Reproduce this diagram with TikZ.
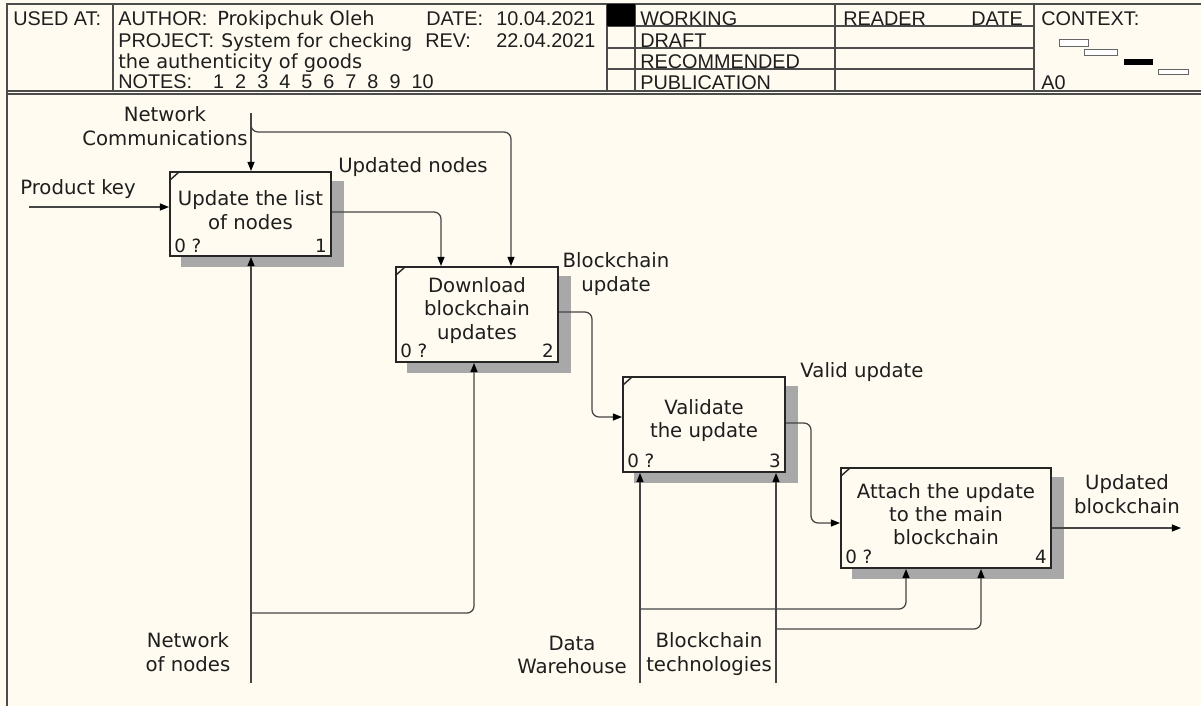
\documentclass[tikz,border=0pt]{standalone}
\usepackage{fontspec}
\setmainfont{DejaVu Sans}
\newfontfamily\arialf{Liberation Sans}
\usetikzlibrary{arrows.meta,backgrounds}
\definecolor{bgc}{HTML}{FFFBF0}
\definecolor{ink}{HTML}{1E1E1E}
\definecolor{wire}{HTML}{454545}
\definecolor{shadowc}{HTML}{A8A8A8}
\begin{document}
\begin{tikzpicture}[x=0.025cm,y=-0.025cm,
  hdr/.style={font=\arialf\fontsize{14.1}{16}\selectfont, text=ink, inner sep=0, anchor=base west},
  hval/.style={font=\fontsize{13.8}{16}\selectfont, text=ink, inner sep=0, anchor=base west},
  grid/.style={draw=black!70, line width=0.9pt},
  func/.style={draw=black!85, line width=1.4pt, fill=bgc, rectangle, inner sep=0},
  ftext/.style={font=\fontsize{14}{16.6}\selectfont, align=center, text=ink, inner sep=0},
  corner/.style={font=\fontsize{13}{15}\selectfont, text=ink, inner sep=0},
  lbl/.style={font=\fontsize{14}{16.6}\selectfont, align=center, text=ink, inner sep=0},
  wirest/.style={draw=wire, line width=0.9pt, rounded corners=5},
  arr/.style={wirest, -{Triangle[length=6.5pt,width=5pt,color=black]}},
  mini/.style={draw=black!60, line width=0.6pt, fill=white},
]
\useasboundingbox (0,0) rectangle (1201,706);

% ---------- header frame ----------
\draw[grid] (7,706) -- (7,4) -- (1201,4);
\draw[grid] (7,91) -- (1201,91);
\draw[grid] (7,94) -- (1201,94);
\draw[grid] (113,4) -- (113,91);
\draw[grid] (607,4) -- (607,91);
\draw[grid] (635,4) -- (635,91);
\draw[grid] (835,4) -- (835,91);
\draw[grid] (1034,4) -- (1034,91);
\foreach \yy in {26,48,69} \draw[grid] (607,\yy) -- (1034,\yy);
\fill[black] (607,4) rectangle (635,26);

\node[hdr] (usedat) at (13,25) {USED AT:};
\node[hdr] (author) at (118,25) {AUTHOR:};
\node[hval] (authorv) at (217,25) {Prokipchuk Oleh};
\node[hdr] (date) at (426,25) {DATE:};
\node[hdr] (datev) at (496,25) {10.04.2021};
\node[hdr] (project) at (118,47) {PROJECT:};
\node[hval, font=\fontsize{13.3}{15}\selectfont] (projectv) at (221,47) {System for checking};
\node[hdr] (rev) at (425,47) {REV:};
\node[hdr] (revv) at (496,47) {22.04.2021};
\node[hval] (projectv2) at (118,68) {the authenticity of goods};
\node[hdr] (notes) at (118,88) {NOTES:\hspace{15pt}1\ \ 2\ \ 3\ \ 4\ \ 5\ \ 6\ \ 7\ \ 8\ \ 9\ \ 10};
\node[hdr] (working) at (640,25) {WORKING};
\node[hdr] (draft) at (640,47) {DRAFT};
\node[hdr] (recommended) at (640,68) {RECOMMENDED};
\node[hdr] (publication) at (640,89) {PUBLICATION};
\node[hdr] (reader) at (843,25) {READER};
\node[hdr, anchor=base east] (rdate) at (1023,25) {DATE};
\node[hdr] (context) at (1041,25) {CONTEXT:};
\node[hdr] (azero) at (1041,89) {A0};
\draw[mini] (1059,39) rectangle (1088,46);
\draw[mini] (1084,49) rectangle (1117,55);
\fill[black] (1124,59) rectangle (1153,65);
\draw[mini] (1158,69) rectangle (1188,74);

% ---------- function boxes ----------
\node[func, minimum width=4.025cm, minimum height=2.1cm] (b1) at (250.5,214) {};
\node[func, minimum width=4.05cm, minimum height=2.375cm] (b2) at (477,314.5) {};
\node[func, minimum width=4.05cm, minimum height=2.375cm] (b3) at (704,424.5) {};
\node[func, minimum width=5.25cm, minimum height=2.5cm] (b4) at (946,518) {};

\begin{pgfonlayer}{background}
\fill[bgc] (0,0) rectangle (1201,706);
\foreach \b in {b1,b2,b3,b4}
  \fill[shadowc] ([shift={(12,10)}]\b.north west) rectangle ([shift={(12,10)}]\b.south east);
\end{pgfonlayer}

\foreach \b in {b1,b2,b3,b4}
  \draw[black!85, line width=1pt] ([shift={(1,9)}]\b.north west) -- ([shift={(10,1)}]\b.north west);

\node[ftext] (b1t) at ([shift={(0,-4)}]b1.center) {Update the list\\of nodes};
\node[ftext] (b2t) at ([shift={(0,-4)}]b2.center) {Download\\blockchain\\updates};
\node[ftext] (b3t) at ([shift={(0,-4)}]b3.center) {Validate\\the update};
\node[ftext] (b4t) at ([shift={(0,-4)}]b4.center) {Attach the update\\to the main\\blockchain};

\node[corner, anchor=base west] (b1z) at ([shift={(5,-5)}]b1.south west) {0 ?};
\node[corner, anchor=base east] (b1n) at ([shift={(-5,-5)}]b1.south east) {1};
\node[corner, anchor=base west] (b2z) at ([shift={(5,-6)}]b2.south west) {0 ?};
\node[corner, anchor=base east] (b2n) at ([shift={(-5,-6)}]b2.south east) {2};
\node[corner, anchor=base west] (b3z) at ([shift={(5,-6)}]b3.south west) {0 ?};
\node[corner, anchor=base east] (b3n) at ([shift={(-5,-6)}]b3.south east) {3};
\node[corner, anchor=base west] (b4z) at ([shift={(5,-6)}]b4.south west) {0 ?};
\node[corner, anchor=base east] (b4n) at ([shift={(-5,-6)}]b4.south east) {4};

% ---------- labels ----------
\node[lbl] (lpk) at (78,189) {Product key};
\node[lbl] (lnc) at (165,126) {Network\\Communications};
\node[lbl] (lun) at (413,167) {Updated nodes};
\node[lbl] (lbu) at (616,274) {Blockchain\\update};
\node[lbl] (lvu) at (862,372) {Valid update};
\node[lbl] (lub) at (1127,494) {Updated\\blockchain};
\node[lbl] (lnn) at (188,652) {Network\\of nodes};
\node[lbl] (ldw) at (572,655) {Data\\Warehouse};
\node[lbl] (lbt) at (709,654) {Blockchain\\technologies};

% ---------- connectors ----------
\coordinate (pkS) at (29,207);
\draw[arr] (pkS) -- (pkS -| b1.west);

\coordinate (ncS) at (251,113);
\draw[arr] (ncS) -- (ncS |- b1.north);
\coordinate (ncB) at (251,125);
\coordinate (ncC) at (511,132);
\draw[arr] (ncB) |- (ncC) -- (ncC |- b2.north);

\coordinate (unC) at (441,212);
\draw[arr] (unC -| b1.east) -- (unC) -- (unC |- b2.north);

\coordinate (buC) at (592,312);
\coordinate (buD) at (592,417);
\draw[arr] (buC -| b2.east) -- (buC) -- (buD) -- (buD -| b3.west);

\coordinate (vuC) at (811,423);
\coordinate (vuD) at (811,523);
\draw[arr] (vuC -| b3.east) -- (vuC) -- (vuD) -- (vuD -| b4.west);

\coordinate (ubE) at (1181,528);
\draw[arr] (ubE -| b4.east) -- (ubE);

\coordinate (nnS) at (251,683);
\draw[arr] (nnS) -- (nnS |- b1.south);
\coordinate (nnB) at (251,613);
\coordinate (nnC) at (474,613);
\draw[arr] (nnB) -- (nnC) -- (nnC |- b2.south);

\coordinate (dwS) at (640,683);
\draw[arr] (dwS) -- (dwS |- b3.south);
\coordinate (dwB) at (640,609);
\coordinate (dwC) at (906,609);
\draw[arr] (dwB) -- (dwC) -- (dwC |- b4.south);

\coordinate (btS) at (776,683);
\draw[arr] (btS) -- (btS |- b3.south);
\coordinate (btB) at (776,629);
\coordinate (btC) at (981,629);
\draw[arr] (btB) -- (btC) -- (btC |- b4.south);
\end{tikzpicture}
\end{document}
